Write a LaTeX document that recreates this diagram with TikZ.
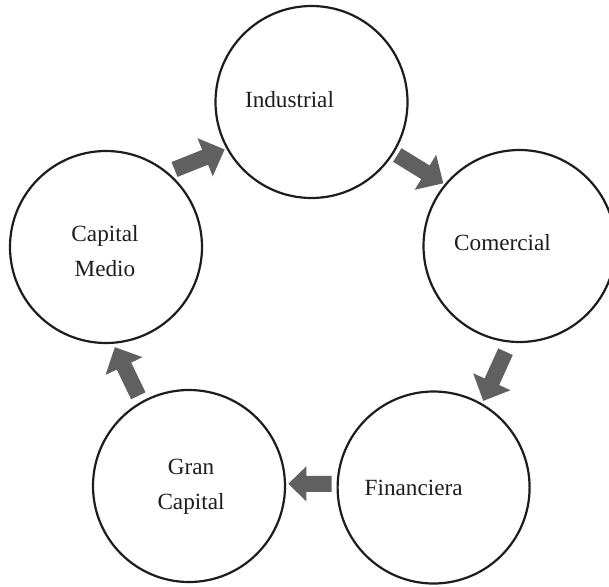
\documentclass[tikz,border=0pt]{standalone}
\usepackage{fontspec}
\setmainfont{Liberation Serif}
\usetikzlibrary{calc}
\definecolor{arrowgray}{RGB}{96,96,96}
\definecolor{inkc}{RGB}{30,28,29}
\tikzset{
  stage/.style={circle, draw=inkc, line width=2.2pt, minimum size=192pt, inner sep=0pt},
  lbl/.style={font=\fontsize{23.2}{35.5}\selectfont, text=inkc, align=center, inner sep=0pt},
  pics/blockarrow/.style n args={3}{code={
    \fill[arrowgray] (0,-8) -- (#1-#2,-8) -- (#1-#2,-#3) -- (#1,0) -- (#1-#2,#3) -- (#1-#2,8) -- (0,8) -- cycle;
  }}
}
\begin{document}
\begin{tikzpicture}[x=1pt,y=-1pt]
\useasboundingbox (0,0) rectangle (609,586);
\node[stage] (ind) at (311.5,102) {};
\node[stage] (com) at (519.5,246) {};
\node[stage] (fin) at (433.6,487.5) {};
\node[stage] (gc)  at (189,486) {};
\node[stage] (cm)  at (106,247) {};

\node[lbl] (tind) at ($(ind)+(-22,-2)$) {Industrial};
\node[lbl] (tcom) at ($(com)+(-17,-3)$) {Comercial};
\node[lbl] (tfin) at ($(fin)+(-20,0)$) {Financiera};
\node[lbl] (tgc)  at ($(gc)+(2,1)$) {Gran\\Capital};
\node[lbl] (tcm)  at ($(cm)+(-1,4)$) {Capital\\Medio};

\pic[rotate=21.8]   at (174.5,169.5) {blockarrow={54}{21}{20.5}};
\pic[rotate=-31.6]  at (397.3,155)   {blockarrow={54}{21}{20.5}};
\pic[rotate=-114.4] at (505.5,351.7) {blockarrow={54}{21}{20.5}};
\pic[rotate=180]    at (331.7,483.8) {blockarrow={43.4}{18}{17.5}};
\pic[rotate=115.7]  at (138.3,395.8) {blockarrow={54}{21}{20.5}};
\end{tikzpicture}
\end{document}
